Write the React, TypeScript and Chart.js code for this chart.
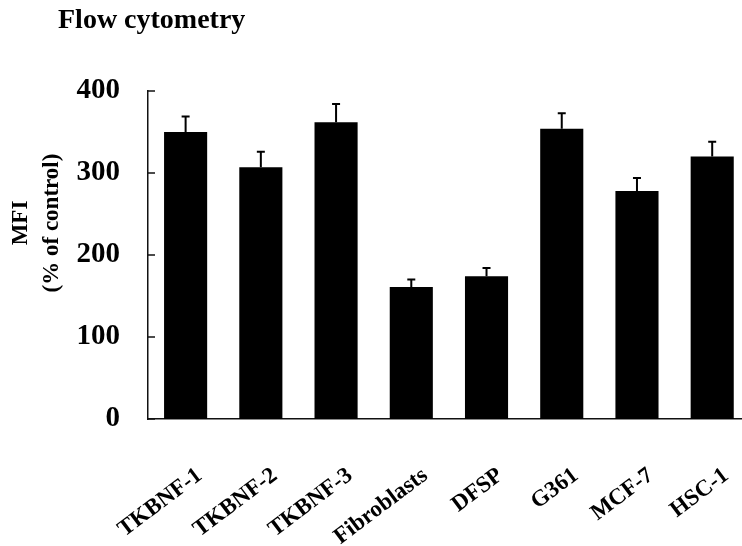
import React, { useEffect, useRef } from "react";
import { Chart, registerables } from "chart.js";

Chart.register(...registerables);

const categories = ["TKBNF-1", "TKBNF-2", "TKBNF-3", "Fibroblasts", "DFSP", "G361", "MCF-7", "HSC-1"];
const mfiValues = [350, 307, 362, 161, 174, 354, 278, 320];
const mfiErrors = [19, 19, 22, 9, 10, 19, 16, 18];
const yTicks = [0, 100, 200, 300, 400];
const chartTitle = "Flow cytometry";
const yTitleLines = ["MFI", "(% of control)"];

const SERIF = '"Liberation Serif", "Times New Roman", serif';

const decorPlugin = {
  id: "decor",
  afterDatasetsDraw(chart: any) {
    const ctx = chart.ctx;
    const ys = chart.scales.y;
    const meta = chart.getDatasetMeta(0);
    ctx.save();
    ctx.strokeStyle = "#000";
    ctx.lineWidth = 2;
    meta.data.forEach((bar: any, i: number) => {
      const x = bar.x;
      const y0 = ys.getPixelForValue(mfiValues[i]);
      const y1 = ys.getPixelForValue(mfiValues[i] + mfiErrors[i]);
      ctx.beginPath();
      ctx.moveTo(x, y0);
      ctx.lineTo(x, y1);
      ctx.moveTo(x - 4, y1);
      ctx.lineTo(x + 4, y1);
      ctx.stroke();
    });
    const left = chart.chartArea.left;
    ctx.lineWidth = 1.5;
    ctx.strokeStyle = "#111";
    yTicks.forEach((v) => {
      const y = ys.getPixelForValue(v);
      ctx.beginPath();
      ctx.moveTo(left, y);
      ctx.lineTo(left + 7, y);
      ctx.stroke();
    });
    ctx.restore();
  },
  afterDraw(chart: any) {
    const ctx = chart.ctx;
    ctx.save();
    ctx.fillStyle = "#000";
    ctx.font = `bold 28px ${SERIF}`;
    ctx.textAlign = "left";
    ctx.textBaseline = "alphabetic";
    ctx.fillText(chartTitle, 58, 28);

    ctx.font = `bold 23px ${SERIF}`;
    ctx.textAlign = "center";
    ctx.textBaseline = "middle";
    const xs = [21, 52];
    yTitleLines.forEach((line, i) => {
      ctx.save();
      ctx.translate(xs[i], 223);
      ctx.rotate(-Math.PI / 2);
      ctx.fillText(line, 0, 0);
      ctx.restore();
    });
    ctx.restore();
  },
};

export default function App() {
  const ref = useRef<HTMLCanvasElement | null>(null);

  useEffect(() => {
    if (!ref.current) return;
    const chart = new Chart(ref.current, {
      type: "bar",
      data: {
        labels: categories,
        datasets: [
          {
            data: mfiValues,
            backgroundColor: "#000",
            borderWidth: 0,
            barPercentage: 0.573,
            categoryPercentage: 1,
          },
        ],
      },
      options: {
        responsive: false,
        animation: false,
        devicePixelRatio: 1,
        layout: { padding: { top: 91, left: 0, right: 3, bottom: 0 } },
        plugins: { legend: { display: false }, tooltip: { enabled: false }, title: { display: false } },
        scales: {
          x: {
            offset: true,
            grid: { display: false, drawTicks: false },
            border: { display: true, color: "#111", width: 1.5 },
            ticks: {
              color: "#000",
              font: { family: SERIF, weight: "bold", size: 23 },
              maxRotation: 37,
              minRotation: 37,
              padding: 43,
              labelOffset: 14,
              autoSkip: false,
            },
            afterFit: (s: any) => {
              s.height = 127;
            },
          },
          y: {
            min: 0,
            max: 400,
            grid: { display: false, drawTicks: false },
            border: { display: true, color: "#111", width: 1.5 },
            afterBuildTicks: (s: any) => {
              s.ticks = yTicks.map((v) => ({ value: v }));
            },
            ticks: {
              color: "#000",
              font: { family: SERIF, weight: "bold", size: 29 },
              padding: 28,
            },
            afterFit: (s: any) => {
              s.width = 148;
            },
          },
        },
      },
      plugins: [decorPlugin],
    });
    return () => chart.destroy();
  }, []);

  return (
    <div style={{ position: "absolute", left: 0, top: 0, width: 742, height: 546, overflow: "hidden", background: "#fff" }}>
      <canvas ref={ref} width={772} height={546} style={{ display: "block" }} />
    </div>
  );
}
